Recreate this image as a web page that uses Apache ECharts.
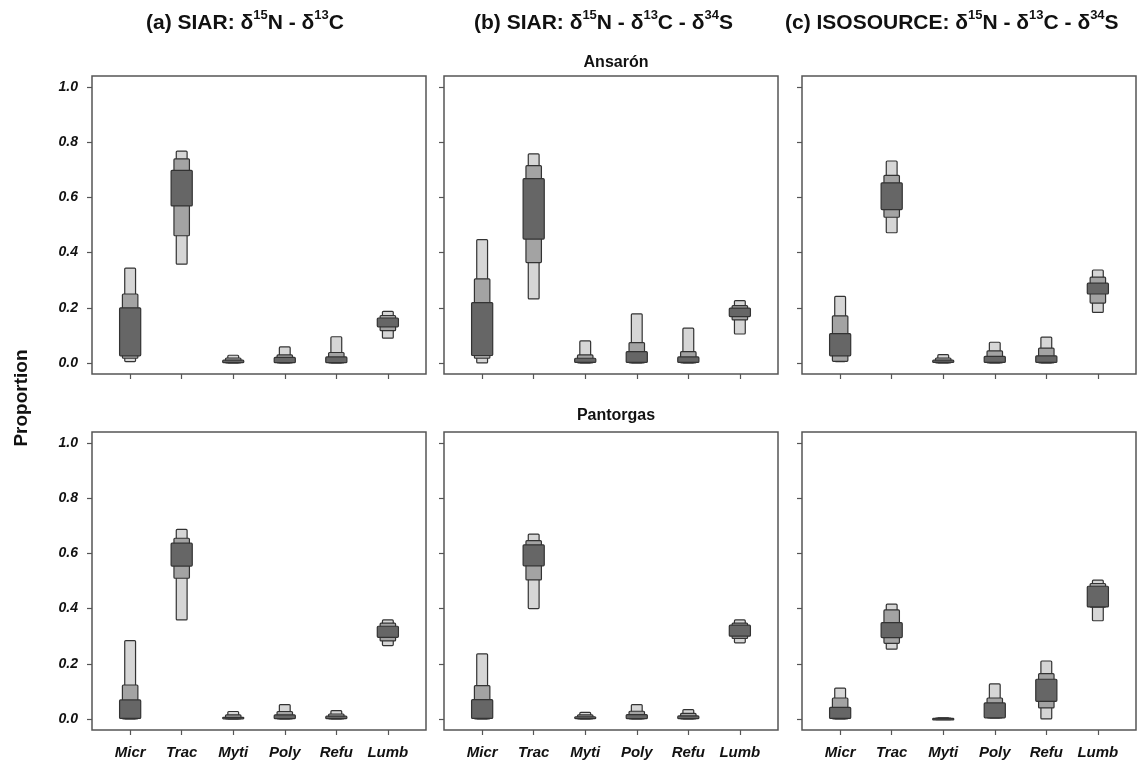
<!DOCTYPE html>
<html>
<head>
<meta charset="utf-8">
<script src="https://cdn.jsdelivr.net/npm/echarts@6/dist/echarts.min.js"></script>
<style>
  html, body { margin: 0; padding: 0; background: #fff; }
  #main { width: 1146px; height: 763px; }
</style>
</head>
<body>
<div id="main"></div>
<script>
var sources = ['Micr', 'Trac', 'Myti', 'Poly', 'Refu', 'Lumb'];
var yTicks = [0, 0.2, 0.4, 0.6, 0.8, 1.0];

// Ansarón - credible intervals [low, high] (95%, 75%, 50%)
var ansA95 = [[0.005, 0.344], [0.358, 0.768], [0, 0.028], [0, 0.058], [0, 0.095], [0.09, 0.187]];
var ansA75 = [[0.017, 0.25], [0.461, 0.74], [0, 0.018], [0, 0.029], [0, 0.038], [0.117, 0.172]];
var ansA50 = [[0.026, 0.2], [0.569, 0.698], [0.001, 0.01], [0.001, 0.02], [0.001, 0.022], [0.131, 0.163]];

var ansB95 = [[0, 0.447], [0.232, 0.758], [0, 0.08], [0, 0.178], [0, 0.126], [0.105, 0.226]];
var ansB75 = [[0.017, 0.305], [0.364, 0.715], [0, 0.029], [0, 0.074], [0, 0.041], [0.156, 0.208]];
var ansB50 = [[0.027, 0.219], [0.449, 0.668], [0.002, 0.017], [0.002, 0.041], [0.002, 0.022], [0.168, 0.199]];

var ansC95 = [[0.005, 0.241], [0.472, 0.732], [0, 0.03], [0, 0.075], [0, 0.094], [0.183, 0.337]];
var ansC75 = [[0.006, 0.171], [0.528, 0.68], [0, 0.018], [0, 0.044], [0, 0.054], [0.217, 0.311]];
var ansC50 = [[0.026, 0.106], [0.556, 0.653], [0.002, 0.01], [0.002, 0.024], [0.002, 0.026], [0.25, 0.289]];

// Pantorgas
var panA95 = [[0, 0.284], [0.359, 0.687], [0, 0.027], [0, 0.052], [0, 0.03], [0.266, 0.359]];
var panA75 = [[0, 0.123], [0.51, 0.655], [0, 0.015], [0, 0.027], [0, 0.018], [0.283, 0.347]];
var panA50 = [[0.002, 0.069], [0.554, 0.637], [0.001, 0.006], [0.001, 0.015], [0.001, 0.01], [0.296, 0.336]];

var panB95 = [[0, 0.236], [0.4, 0.67], [0, 0.024], [0, 0.052], [0, 0.034], [0.276, 0.359]];
var panB75 = [[0, 0.121], [0.504, 0.646], [0, 0.015], [0, 0.028], [0, 0.02], [0.292, 0.347]];
var panB50 = [[0.002, 0.07], [0.555, 0.631], [0.001, 0.008], [0.001, 0.016], [0.001, 0.011], [0.3, 0.34]];

var panC95 = [[0, 0.112], [0.253, 0.416], [0, 0.004], [0.004, 0.127], [0, 0.21], [0.356, 0.503]];
var panC75 = [[0, 0.076], [0.274, 0.395], [0, 0.003], [0.004, 0.076], [0.04, 0.164], [0.405, 0.491]];
var panC50 = [[0.002, 0.042], [0.295, 0.349], [0, 0.002], [0.004, 0.058], [0.064, 0.144], [0.406, 0.481]];

var panels = [
    [ansA95, ansA75, ansA50], [ansB95, ansB75, ansB50], [ansC95, ansC75, ansC50],
    [panA95, panA75, panA50], [panB95, panB75, panB50], [panC95, panC75, panC50]
];

var FONT = '"Liberation Sans", Arial, "DejaVu Sans", sans-serif';
var levels = [
    { hw: 0.105, color: '#d6d6d6' },
    { hw: 0.15, color: '#a3a3a3' },
    { hw: 0.205, color: '#666666' }
];
var colLeft = [92, 444, 802];
var rowTop = [76, 432];

function boxRender(hw, color) {
    return function (params, api) {
        var x = api.value(0);
        var p1 = api.coord([x - hw, api.value(2)]);
        var p2 = api.coord([x + hw, api.value(1)]);
        var h = Math.max(p2[1] - p1[1], 1.5);
        return {
            type: 'rect',
            shape: { x: p1[0], y: p1[1], width: p2[0] - p1[0], height: h, r: 1 },
            style: { fill: color, stroke: '#333', lineWidth: 1.2 }
        };
    };
}

var grids = [], xAxes = [], yAxes = [], series = [];
for (var i = 0; i < 6; i++) {
    var row = Math.floor(i / 3), col = i % 3;
    grids.push({
        left: colLeft[col], top: rowTop[row], width: 334, height: 298,
        show: true, borderColor: '#555', borderWidth: 1.5, backgroundColor: 'transparent'
    });
    xAxes.push({
        type: 'value', gridIndex: i, min: 0.26, max: 6.74, position: 'bottom',
        axisLine: { show: false, onZero: false }, splitLine: { show: false },
        axisTick: { show: true, length: 5, customValues: [1, 2, 3, 4, 5, 6], lineStyle: { color: '#555', width: 1.2 } },
        axisLabel: {
            show: row === 1, customValues: [1, 2, 3, 4, 5, 6], margin: 15,
            formatter: function (v) { return sources[Math.round(v) - 1]; },
            fontFamily: FONT, fontSize: 15, fontWeight: 'bold', fontStyle: 'italic', color: '#111'
        }
    });
    yAxes.push({
        type: 'value', gridIndex: i, min: -0.04, max: 1.04, position: 'left',
        axisLine: { show: false, onZero: false }, splitLine: { show: false },
        axisTick: { show: true, length: 5, customValues: yTicks, lineStyle: { color: '#555', width: 1.2 } },
        axisLabel: {
            show: col === 0, customValues: yTicks, margin: 14,
            formatter: function (v) { return v.toFixed(1); },
            fontFamily: FONT, fontSize: 14, fontWeight: 'bold', fontStyle: 'italic', color: '#111'
        }
    });
    for (var k = 0; k < 3; k++) {
        var data = panels[i][k].map(function (d, j) { return [j + 1, d[0], d[1]]; });
        series.push({
            type: 'custom', xAxisIndex: i, yAxisIndex: i,
            renderItem: boxRender(levels[k].hw, levels[k].color),
            encode: { x: 0, y: [1, 2] },
            data: data, silent: true
        });
    }
}

var rich = {
    b: { fontFamily: FONT, fontSize: 21, fontWeight: 'bold', color: '#111', lineHeight: 28 },
    s: { fontFamily: FONT, fontSize: 13, fontWeight: 'bold', color: '#111', lineHeight: 16, verticalAlign: 'top' }
};
function titleText(prefix, withS) {
    var t = '{b|' + prefix + ' δ}{s|15}{b|N - δ}{s|13}{b|C}';
    if (withS) t += '{b| - δ}{s|34}{b|S}';
    return t;
}

var option = {
    backgroundColor: '#fff',
    animation: false,
    title: [
        { text: titleText('(a) SIAR:', false), left: 141, top: 4, textStyle: { rich: rich } },
        { text: titleText('(b) SIAR:', true), left: 469, top: 4, textStyle: { rich: rich } },
        { text: titleText('(c) ISOSOURCE:', true), left: 780, top: 4, textStyle: { rich: rich } },
        { text: 'Ansarón', left: 611, top: 50, textAlign: 'center',
          textStyle: { fontFamily: FONT, fontSize: 16, fontWeight: 'bold', color: '#111' } },
        { text: 'Pantorgas', left: 611, top: 403, textAlign: 'center',
          textStyle: { fontFamily: FONT, fontSize: 16, fontWeight: 'bold', color: '#111' } }
    ],
    graphic: [{
        type: 'text', x: 22, y: 398, rotation: Math.PI / 2,
        style: {
            text: 'Proportion', fill: '#111', font: 'bold 19px ' + FONT,
            textAlign: 'center', textVerticalAlign: 'middle'
        }
    }],
    grid: grids,
    xAxis: xAxes,
    yAxis: yAxes,
    series: series
};

var chart = echarts.init(document.getElementById('main'));
chart.setOption(option);
</script>
</body>
</html>
